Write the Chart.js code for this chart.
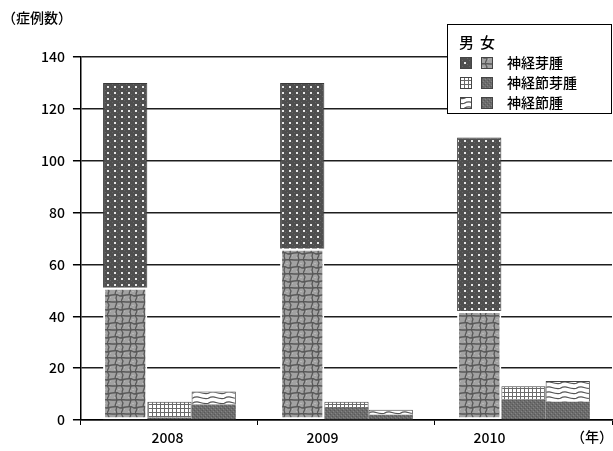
<!DOCTYPE html>
<html>
<head>
<meta charset="utf-8">
<script src="https://cdn.jsdelivr.net/npm/chart.js@4/dist/chart.umd.min.js"></script>
<style>
  html, body { margin: 0; padding: 0; background: #fff; }
  #wrap { width: 613px; height: 451px; position: relative; }
</style>
</head>
<body>
<div id="wrap"><canvas id="c" width="613" height="451"></canvas></div>
<script>
// Years on the x axis
const years = ['2008', '2009', '2010'];
// Tumour types, one stacked bar each per year
const tumorTypes = ['神経芽腫', '神経節芽腫', '神経節腫'];
// 女 (lower segment of each bar)
const femaleNB  = [51, 66, 42];
const femaleGNB = [1, 5, 8];
const femaleGN  = [6, 2, 7];
// 男 (upper segment of each bar)
const maleNB  = [79, 64, 67];
const maleGNB = [6, 2, 5];
const maleGN  = [5, 2, 8];
// y axis ticks
const yTicks = [0, 20, 40, 60, 80, 100, 120, 140];

const FONT = '"Noto Sans CJK JP", "Noto Sans", sans-serif';
const WEIGHT = '500';
const ctx = document.getElementById('c').getContext('2d');

function makePattern(w, h, draw) {
  const t = document.createElement('canvas');
  t.width = w; t.height = h;
  draw(t.getContext('2d'), w, h);
  return ctx.createPattern(t, 'repeat');
}

// dark grey with a grid of white dots
const patNbMale = makePattern(7, 6, (g, w, h) => {
  g.fillStyle = '#4f4f4f'; g.fillRect(0, 0, w, h);
  g.fillStyle = '#666'; g.fillRect(0, 0, 1, 1); g.fillRect(5, 4, 1, 1);
  g.fillStyle = '#e8e8e8'; g.fillRect(2, 2, 2, 2);
});
// mid grey with a darker cobblestone network
const patNbFemale = makePattern(14, 14, (g, w, h) => {
  g.fillStyle = '#a2a2a2'; g.fillRect(0, 0, w, h);
  g.fillStyle = '#b8b8b8';
  [[2,5],[9,9],[6,11],[11,3],[3,12],[8,6]].forEach(p => g.fillRect(p[0], p[1], 2, 1));
  g.strokeStyle = '#585858'; g.lineWidth = 1.3;
  g.beginPath();
  g.moveTo(0, 1); g.lineTo(5, 0.5); g.lineTo(8, 2); g.lineTo(14, 1);
  g.moveTo(5, 0.5); g.lineTo(4, 4); g.lineTo(5, 8); g.lineTo(3, 14);
  g.moveTo(0, 8); g.lineTo(5, 8); g.lineTo(9, 7.5); g.lineTo(14, 8);
  g.moveTo(9, 7.5); g.lineTo(11, 11); g.lineTo(10, 14);
  g.moveTo(10, 0); g.lineTo(11, 3); g.lineTo(9, 7.5);
  g.stroke();
});
// white with a fine grey grid
const patGnbMale = makePattern(4, 4, (g, w, h) => {
  g.fillStyle = '#fff'; g.fillRect(0, 0, w, h);
  g.fillStyle = '#6a6a6a'; g.fillRect(0, 0, w, 1); g.fillRect(0, 0, 1, h);
});
// textured dark grey
const patDark = makePattern(4, 4, (g, w, h) => {
  g.fillStyle = '#6c6c6c'; g.fillRect(0, 0, w, h);
  g.fillStyle = '#585858'; g.fillRect(0, 0, 1, 1); g.fillRect(2, 2, 1, 1);
  g.fillStyle = '#858585'; g.fillRect(1, 3, 1, 1); g.fillRect(3, 1, 1, 1);
});
// white with rising wavy hatching
const patGnMale = makePattern(16, 5, (g, w, h) => {
  g.fillStyle = '#fff'; g.fillRect(0, 0, w, h);
  g.strokeStyle = '#555'; g.lineWidth = 1.2;
  g.beginPath();
  g.moveTo(0, 3.5); g.quadraticCurveTo(4, 1, 8, 2.5); g.quadraticCurveTo(12, 4, 16, 3.5);
  g.stroke();
});

const datasets = [
  { label: '神経芽腫 女',   data: femaleNB,  stack: 'nb',  backgroundColor: patNbFemale, borderColor: '#fff', borderWidth: 2, borderSkipped: false },
  { label: '神経芽腫 男',   data: maleNB,    stack: 'nb',  backgroundColor: patNbMale,   borderColor: '#3a3a3a', borderWidth: 1 },
  { label: '神経節芽腫 女', data: femaleGNB, stack: 'gnb', backgroundColor: patDark,     borderColor: '#555', borderWidth: 0 },
  { label: '神経節芽腫 男', data: maleGNB,   stack: 'gnb', backgroundColor: patGnbMale,  borderColor: '#444', borderWidth: 1 },
  { label: '神経節腫 女',   data: femaleGN,  stack: 'gn',  backgroundColor: patDark,     borderColor: '#555', borderWidth: 0 },
  { label: '神経節腫 男',   data: maleGN,    stack: 'gn',  backgroundColor: patGnMale,   borderColor: '#444', borderWidth: 1 }
];

// year labels sit slightly left of the group centres
const yearLabelShift = [-2, -24, -34];

const decorations = {
  id: 'decorations',
  afterDraw(chart) {
    const g = chart.ctx;
    const xs = chart.scales.x;
    g.save();
    g.fillStyle = '#000';
    g.font = WEIGHT + ' 14px ' + FONT;
    g.textBaseline = 'middle';
    g.textAlign = 'center';
    years.forEach((y, i) => {
      g.fillText(y, xs.getPixelForValue(i) + yearLabelShift[i], 438);
    });
    g.textAlign = 'left';
    g.fillText('（年）', 571, 437);
    g.fillText('（症例数）', 2, 18);

    // legend box
    const lx = 447, ly = 24, lw = 165, lh = 90;
    g.fillStyle = '#fff';
    g.fillRect(lx, ly, lw, lh);
    g.strokeStyle = '#000'; g.lineWidth = 1;
    g.strokeRect(lx + 0.5, ly + 0.5, lw - 1, lh - 1);
    g.fillStyle = '#000';
    g.font = WEIGHT + ' 15px ' + FONT;
    g.fillText('男', 459, 42);
    g.fillText('女', 480, 42);
    g.font = WEIGHT + ' 14px ' + FONT;
    const swMale = [patNbMale, patGnbMale, patGnMale];
    const swFemale = [patNbFemale, patDark, patDark];
    tumorTypes.forEach((name, i) => {
      const cy = 63 + i * 20;
      g.fillStyle = swMale[i]; g.fillRect(460, cy - 6, 12, 12);
      g.strokeStyle = '#444'; g.strokeRect(460.5, cy - 5.5, 11, 11);
      g.fillStyle = swFemale[i]; g.fillRect(481, cy - 6, 12, 12);
      g.strokeRect(481.5, cy - 5.5, 11, 11);
      g.fillStyle = '#000';
      g.fillText(name, 507, cy);
    });
    g.restore();
  }
};

new Chart(ctx, {
  type: 'bar',
  data: { labels: years, datasets: datasets },
  options: {
    responsive: false,
    animation: false,
    layout: { padding: { left: 33, right: 1, top: 57, bottom: 26 } },
    datasets: { bar: { categoryPercentage: 0.75, barPercentage: 1 } },
    plugins: { legend: { display: false }, tooltip: { enabled: false } },
    scales: {
      x: {
        stacked: true,
        grid: { drawOnChartArea: false, drawTicks: true, tickLength: 5, tickColor: '#000', color: '#000' },
        border: { color: '#000', width: 1.5 },
        ticks: { display: false }
      },
      y: {
        stacked: true,
        min: 0, max: 140,
        afterBuildTicks(scale) { scale.ticks = yTicks.map(v => ({ value: v })); },
        ticks: { color: '#000', font: { size: 14, family: FONT, weight: WEIGHT }, padding: 8 },
        grid: { color: '#1e1e1e', lineWidth: 1.5, tickLength: 8, tickColor: '#000' },
        border: { color: '#000', width: 1.5 }
      }
    }
  },
  plugins: [decorations]
});
</script>
</body>
</html>
